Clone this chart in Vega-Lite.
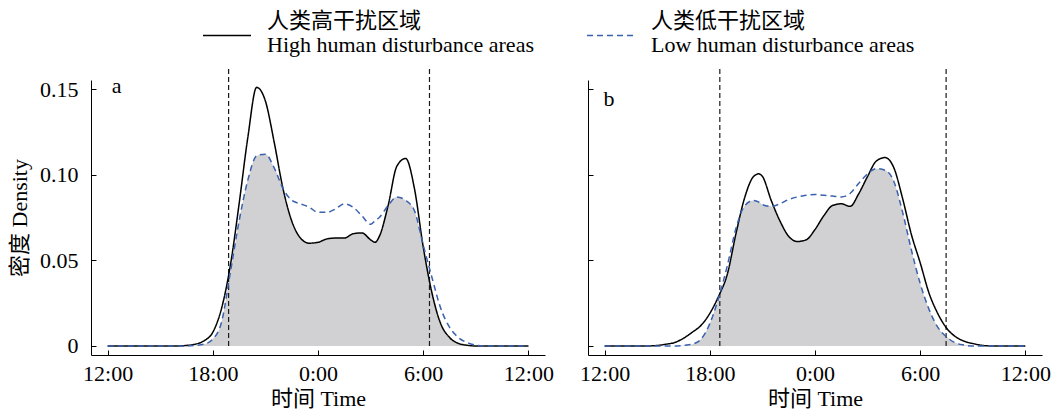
{
  "$schema": "https://vega.github.io/schema/vega-lite/v6.json",
  "background": "white",
  "padding": {"left": 8, "top": 8, "right": 5, "bottom": 2},
  "spacing": 25,
  "config": {
    "view": {"stroke": null},
    "font": "Liberation Serif, Noto Sans CJK SC",
    "axis": {
      "grid": false,
      "domainColor": "black",
      "domainWidth": 1,
      "tickColor": "black",
      "tickWidth": 1,
      "tickSize": -5,
      "labelFont": "Liberation Serif, Noto Sans CJK SC",
      "labelFontSize": 22,
      "labelColor": "black",
      "titleFont": "Liberation Serif, Noto Sans CJK SC",
      "titleFontSize": 22,
      "titleFontWeight": "normal",
      "titleColor": "black"
    },
    "legend": {
      "orient": "none",
      "legendX": 123,
      "legendY": -72,
      "direction": "horizontal",
      "symbolType": "M-2,1.2H2",
      "symbolSize": 576,
      "symbolStrokeWidth": 1.5,
      "labelFontSize": 22,
      "labelFont": "Liberation Serif, Noto Sans CJK SC",
      "labelColor": "black",
      "labelOffset": 27,
      "columnPadding": 50,
      "labelLimit": 0
    }
  },
  "datasets": {
    "rules": [
      {"panel": "a", "hour": 6.9},
      {"panel": "a", "hour": 18.36},
      {"panel": "b", "hour": 6.57},
      {"panel": "b", "hour": 19.48}
    ],
    "curves": [
      {"panel":"a","series":"high","hour":0,"density":0},
      {"panel":"a","series":"high","hour":2,"density":0},
      {"panel":"a","series":"high","hour":4,"density":0},
      {"panel":"a","series":"high","hour":4.5,"density":0.0003},
      {"panel":"a","series":"high","hour":5,"density":0.001},
      {"panel":"a","series":"high","hour":5.5,"density":0.003},
      {"panel":"a","series":"high","hour":6,"density":0.008},
      {"panel":"a","series":"high","hour":6.5,"density":0.022},
      {"panel":"a","series":"high","hour":7,"density":0.047},
      {"panel":"a","series":"high","hour":7.5,"density":0.083},
      {"panel":"a","series":"high","hour":8,"density":0.122},
      {"panel":"a","series":"high","hour":8.5,"density":0.151},
      {"panel":"a","series":"high","hour":9,"density":0.143},
      {"panel":"a","series":"high","hour":9.5,"density":0.119},
      {"panel":"a","series":"high","hour":10,"density":0.092},
      {"panel":"a","series":"high","hour":10.5,"density":0.073},
      {"panel":"a","series":"high","hour":11,"density":0.063},
      {"panel":"a","series":"high","hour":11.5,"density":0.060},
      {"panel":"a","series":"high","hour":12,"density":0.0605},
      {"panel":"a","series":"high","hour":12.5,"density":0.0625},
      {"panel":"a","series":"high","hour":13,"density":0.063},
      {"panel":"a","series":"high","hour":13.5,"density":0.063},
      {"panel":"a","series":"high","hour":14,"density":0.0655},
      {"panel":"a","series":"high","hour":14.5,"density":0.066},
      {"panel":"a","series":"high","hour":15,"density":0.062},
      {"panel":"a","series":"high","hour":15.25,"density":0.0605},
      {"panel":"a","series":"high","hour":15.5,"density":0.064},
      {"panel":"a","series":"high","hour":16,"density":0.082},
      {"panel":"a","series":"high","hour":16.5,"density":0.105},
      {"panel":"a","series":"high","hour":17,"density":0.1095},
      {"panel":"a","series":"high","hour":17.5,"density":0.092},
      {"panel":"a","series":"high","hour":18,"density":0.058},
      {"panel":"a","series":"high","hour":18.5,"density":0.031},
      {"panel":"a","series":"high","hour":19,"density":0.013},
      {"panel":"a","series":"high","hour":19.5,"density":0.005},
      {"panel":"a","series":"high","hour":20,"density":0.0015},
      {"panel":"a","series":"high","hour":20.5,"density":0.0004},
      {"panel":"a","series":"high","hour":21,"density":0},
      {"panel":"a","series":"high","hour":21.5,"density":0},
      {"panel":"a","series":"high","hour":22,"density":0},
      {"panel":"a","series":"high","hour":24,"density":0},
      {"panel":"a","series":"low","hour":0,"density":0},
      {"panel":"a","series":"low","hour":2,"density":0},
      {"panel":"a","series":"low","hour":4,"density":0},
      {"panel":"a","series":"low","hour":4.5,"density":0},
      {"panel":"a","series":"low","hour":5,"density":0.0003},
      {"panel":"a","series":"low","hour":5.5,"density":0.001},
      {"panel":"a","series":"low","hour":6,"density":0.004},
      {"panel":"a","series":"low","hour":6.5,"density":0.014},
      {"panel":"a","series":"low","hour":7,"density":0.043},
      {"panel":"a","series":"low","hour":7.5,"density":0.073},
      {"panel":"a","series":"low","hour":8,"density":0.097},
      {"panel":"a","series":"low","hour":8.5,"density":0.111},
      {"panel":"a","series":"low","hour":9,"density":0.112},
      {"panel":"a","series":"low","hour":9.5,"density":0.104},
      {"panel":"a","series":"low","hour":10,"density":0.092},
      {"panel":"a","series":"low","hour":10.5,"density":0.085},
      {"panel":"a","series":"low","hour":11,"density":0.083},
      {"panel":"a","series":"low","hour":11.5,"density":0.081},
      {"panel":"a","series":"low","hour":12,"density":0.078},
      {"panel":"a","series":"low","hour":12.5,"density":0.078},
      {"panel":"a","series":"low","hour":13,"density":0.080},
      {"panel":"a","series":"low","hour":13.5,"density":0.083},
      {"panel":"a","series":"low","hour":14,"density":0.081},
      {"panel":"a","series":"low","hour":14.5,"density":0.076},
      {"panel":"a","series":"low","hour":15,"density":0.071},
      {"panel":"a","series":"low","hour":15.25,"density":0.073},
      {"panel":"a","series":"low","hour":15.5,"density":0.075},
      {"panel":"a","series":"low","hour":16,"density":0.082},
      {"panel":"a","series":"low","hour":16.5,"density":0.087},
      {"panel":"a","series":"low","hour":17,"density":0.085},
      {"panel":"a","series":"low","hour":17.5,"density":0.079},
      {"panel":"a","series":"low","hour":18,"density":0.059},
      {"panel":"a","series":"low","hour":18.5,"density":0.040},
      {"panel":"a","series":"low","hour":19,"density":0.022},
      {"panel":"a","series":"low","hour":19.5,"density":0.011},
      {"panel":"a","series":"low","hour":20,"density":0.005},
      {"panel":"a","series":"low","hour":20.5,"density":0.002},
      {"panel":"a","series":"low","hour":21,"density":0.0005},
      {"panel":"a","series":"low","hour":21.5,"density":0},
      {"panel":"a","series":"low","hour":22,"density":0},
      {"panel":"a","series":"low","hour":24,"density":0},
      {"panel":"b","series":"high","hour":0,"density":0},
      {"panel":"b","series":"high","hour":2,"density":0},
      {"panel":"b","series":"high","hour":2.5,"density":0},
      {"panel":"b","series":"high","hour":3,"density":0.0003},
      {"panel":"b","series":"high","hour":3.5,"density":0.001},
      {"panel":"b","series":"high","hour":4,"density":0.002},
      {"panel":"b","series":"high","hour":4.5,"density":0.0045},
      {"panel":"b","series":"high","hour":5,"density":0.008},
      {"panel":"b","series":"high","hour":5.5,"density":0.012},
      {"panel":"b","series":"high","hour":6,"density":0.019},
      {"panel":"b","series":"high","hour":6.5,"density":0.029},
      {"panel":"b","series":"high","hour":7,"density":0.042},
      {"panel":"b","series":"high","hour":7.5,"density":0.066},
      {"panel":"b","series":"high","hour":8,"density":0.087},
      {"panel":"b","series":"high","hour":8.5,"density":0.099},
      {"panel":"b","series":"high","hour":8.8,"density":0.1005},
      {"panel":"b","series":"high","hour":9,"density":0.099},
      {"panel":"b","series":"high","hour":9.5,"density":0.085},
      {"panel":"b","series":"high","hour":10,"density":0.073},
      {"panel":"b","series":"high","hour":10.5,"density":0.064},
      {"panel":"b","series":"high","hour":11,"density":0.061},
      {"panel":"b","series":"high","hour":11.5,"density":0.062},
      {"panel":"b","series":"high","hour":12,"density":0.068},
      {"panel":"b","series":"high","hour":12.5,"density":0.076},
      {"panel":"b","series":"high","hour":13,"density":0.082},
      {"panel":"b","series":"high","hour":13.5,"density":0.083},
      {"panel":"b","series":"high","hour":14,"density":0.0815},
      {"panel":"b","series":"high","hour":14.5,"density":0.089},
      {"panel":"b","series":"high","hour":15,"density":0.099},
      {"panel":"b","series":"high","hour":15.5,"density":0.108},
      {"panel":"b","series":"high","hour":16,"density":0.110},
      {"panel":"b","series":"high","hour":16.5,"density":0.104},
      {"panel":"b","series":"high","hour":17,"density":0.086},
      {"panel":"b","series":"high","hour":17.5,"density":0.065},
      {"panel":"b","series":"high","hour":18,"density":0.0486},
      {"panel":"b","series":"high","hour":18.5,"density":0.031},
      {"panel":"b","series":"high","hour":19,"density":0.019},
      {"panel":"b","series":"high","hour":19.5,"density":0.0105},
      {"panel":"b","series":"high","hour":20,"density":0.0055},
      {"panel":"b","series":"high","hour":20.5,"density":0.0028},
      {"panel":"b","series":"high","hour":21,"density":0.0014},
      {"panel":"b","series":"high","hour":21.5,"density":0.0004},
      {"panel":"b","series":"high","hour":22,"density":0},
      {"panel":"b","series":"high","hour":24,"density":0},
      {"panel":"b","series":"low","hour":0,"density":0},
      {"panel":"b","series":"low","hour":2,"density":0},
      {"panel":"b","series":"low","hour":2.5,"density":0},
      {"panel":"b","series":"low","hour":3,"density":0},
      {"panel":"b","series":"low","hour":3.5,"density":0},
      {"panel":"b","series":"low","hour":4,"density":0},
      {"panel":"b","series":"low","hour":4.5,"density":0.0003},
      {"panel":"b","series":"low","hour":5,"density":0.001},
      {"panel":"b","series":"low","hour":5.5,"density":0.004},
      {"panel":"b","series":"low","hour":6,"density":0.013},
      {"panel":"b","series":"low","hour":6.5,"density":0.028},
      {"panel":"b","series":"low","hour":7,"density":0.047},
      {"panel":"b","series":"low","hour":7.5,"density":0.069},
      {"panel":"b","series":"low","hour":8,"density":0.082},
      {"panel":"b","series":"low","hour":8.5,"density":0.085},
      {"panel":"b","series":"low","hour":8.8,"density":0.084},
      {"panel":"b","series":"low","hour":9,"density":0.0825},
      {"panel":"b","series":"low","hour":9.5,"density":0.0815},
      {"panel":"b","series":"low","hour":10,"density":0.083},
      {"panel":"b","series":"low","hour":10.5,"density":0.0855},
      {"panel":"b","series":"low","hour":11,"density":0.087},
      {"panel":"b","series":"low","hour":11.5,"density":0.088},
      {"panel":"b","series":"low","hour":12,"density":0.0885},
      {"panel":"b","series":"low","hour":12.5,"density":0.088},
      {"panel":"b","series":"low","hour":13,"density":0.0875},
      {"panel":"b","series":"low","hour":13.5,"density":0.087},
      {"panel":"b","series":"low","hour":14,"density":0.089},
      {"panel":"b","series":"low","hour":14.5,"density":0.095},
      {"panel":"b","series":"low","hour":15,"density":0.1005},
      {"panel":"b","series":"low","hour":15.5,"density":0.1035},
      {"panel":"b","series":"low","hour":16,"density":0.1026},
      {"panel":"b","series":"low","hour":16.5,"density":0.096},
      {"panel":"b","series":"low","hour":17,"density":0.078},
      {"panel":"b","series":"low","hour":17.5,"density":0.056},
      {"panel":"b","series":"low","hour":18,"density":0.0365},
      {"panel":"b","series":"low","hour":18.5,"density":0.0215},
      {"panel":"b","series":"low","hour":19,"density":0.011},
      {"panel":"b","series":"low","hour":19.5,"density":0.0053},
      {"panel":"b","series":"low","hour":20,"density":0.0018},
      {"panel":"b","series":"low","hour":20.5,"density":0.0005},
      {"panel":"b","series":"low","hour":21,"density":0},
      {"panel":"b","series":"low","hour":21.5,"density":0},
      {"panel":"b","series":"low","hour":22,"density":0},
      {"panel":"b","series":"low","hour":24,"density":0}
    ]
  },
  "hconcat": [
    {
      "width": 454,
      "height": 275,
      "layer": [
        {
          "data": {"name": "curves"},
          "transform": [
            {"filter": "datum.panel == 'a'"},
            {"aggregate": [{"op": "min", "field": "density", "as": "overlap"}], "groupby": ["hour"]}
          ],
          "mark": {"type": "area", "interpolate": "monotone", "color": "#d1d1d3"},
          "encoding": {
            "x": {"field": "hour", "type": "quantitative",
                  "scale": {"domain": [-0.95, 24.95], "nice": false, "zero": false},
                  "axis": {"values": [0, 6, 12, 18, 24], "labelExpr": "((datum.value + 12) % 24) + ':00'", "labelPadding": 13, "title": "时间 Time", "titlePadding": 4}},
            "y": {"field": "overlap", "type": "quantitative",
                  "scale": {"domain": [-0.0053, 0.1553], "nice": false, "zero": false},
                  "axis": {"values": [0, 0.05, 0.1, 0.15], "labelExpr": "datum.value == 0 ? '0' : format(datum.value, '.2f')", "labelPadding": 18, "title": "密度 Density", "titlePadding": 8}},
            "y2": {"datum": 0}
          }
        },
        {
          "data": {"name": "rules"},
          "transform": [{"filter": "datum.panel == 'a'"}],
          "mark": {"type": "rule", "strokeDash": [5, 3], "color": "#1a1a1a", "strokeWidth": 1.2},
          "encoding": {
            "x": {"field": "hour", "type": "quantitative"},
            "y": {"datum": 0},
            "y2": {"datum": 0.162}
          }
        },
        {
          "data": {"name": "curves"},
          "transform": [{"filter": "datum.panel == 'a'"}],
          "mark": {"type": "line", "interpolate": "monotone", "strokeWidth": 1.5},
          "encoding": {
            "x": {"field": "hour", "type": "quantitative"},
            "y": {"field": "density", "type": "quantitative"},
            "color": {"field": "series", "type": "nominal",
                      "scale": {"domain": ["high", "low"], "range": ["#000000", "#3a62ae"]},
                      "legend": {"title": null, "labelExpr": "datum.label == 'high' ? ['人类高干扰区域', 'High human disturbance areas'] : ['人类低干扰区域', 'Low human disturbance areas']"}},
            "strokeDash": {"field": "series", "type": "nominal",
                           "scale": {"domain": ["high", "low"], "range": [[1, 0], [6, 4]]},
                           "legend": {"title": null, "labelExpr": "datum.label == 'high' ? ['人类高干扰区域', 'High human disturbance areas'] : ['人类低干扰区域', 'Low human disturbance areas']"}}
          }
        },
        {
          "data": {"values": [{"label": "a"}]},
          "mark": {"type": "text", "align": "left", "baseline": "alphabetic", "fontSize": 22, "font": "Liberation Serif", "color": "black"},
          "encoding": {
            "x": {"datum": 0.23},
            "y": {"datum": 0.1476},
            "text": {"field": "label"}
          }
        }
      ]
    },
    {
      "width": 454,
      "height": 275,
      "layer": [
        {
          "data": {"name": "curves"},
          "transform": [
            {"filter": "datum.panel == 'b'"},
            {"aggregate": [{"op": "min", "field": "density", "as": "overlap"}], "groupby": ["hour"]}
          ],
          "mark": {"type": "area", "interpolate": "monotone", "color": "#d1d1d3"},
          "encoding": {
            "x": {"field": "hour", "type": "quantitative",
                  "scale": {"domain": [-0.95, 24.95], "nice": false, "zero": false},
                  "axis": {"values": [0, 6, 12, 18, 24], "labelExpr": "((datum.value + 12) % 24) + ':00'", "labelPadding": 13, "title": "时间 Time", "titlePadding": 4}},
            "y": {"field": "overlap", "type": "quantitative",
                  "scale": {"domain": [-0.0053, 0.1553], "nice": false, "zero": false},
                  "axis": {"values": [0, 0.05, 0.1, 0.15], "labels": false, "title": null}},
            "y2": {"datum": 0}
          }
        },
        {
          "data": {"name": "rules"},
          "transform": [{"filter": "datum.panel == 'b'"}],
          "mark": {"type": "rule", "strokeDash": [5, 3], "color": "#1a1a1a", "strokeWidth": 1.2},
          "encoding": {
            "x": {"field": "hour", "type": "quantitative"},
            "y": {"datum": 0},
            "y2": {"datum": 0.162}
          }
        },
        {
          "data": {"name": "curves"},
          "transform": [{"filter": "datum.panel == 'b'"}],
          "mark": {"type": "line", "interpolate": "monotone", "strokeWidth": 1.5},
          "encoding": {
            "x": {"field": "hour", "type": "quantitative"},
            "y": {"field": "density", "type": "quantitative"},
            "color": {"field": "series", "type": "nominal",
                      "scale": {"domain": ["high", "low"], "range": ["#000000", "#3a62ae"]},
                      "legend": {"title": null, "labelExpr": "datum.label == 'high' ? ['人类高干扰区域', 'High human disturbance areas'] : ['人类低干扰区域', 'Low human disturbance areas']"}},
            "strokeDash": {"field": "series", "type": "nominal",
                           "scale": {"domain": ["high", "low"], "range": [[1, 0], [6, 4]]},
                           "legend": {"title": null, "labelExpr": "datum.label == 'high' ? ['人类高干扰区域', 'High human disturbance areas'] : ['人类低干扰区域', 'Low human disturbance areas']"}}
          }
        },
        {
          "data": {"values": [{"label": "b"}]},
          "mark": {"type": "text", "align": "left", "baseline": "alphabetic", "fontSize": 22, "font": "Liberation Serif", "color": "black"},
          "encoding": {
            "x": {"datum": -0.06},
            "y": {"datum": 0.140},
            "text": {"field": "label"}
          }
        }
      ]
    }
  ]
}
